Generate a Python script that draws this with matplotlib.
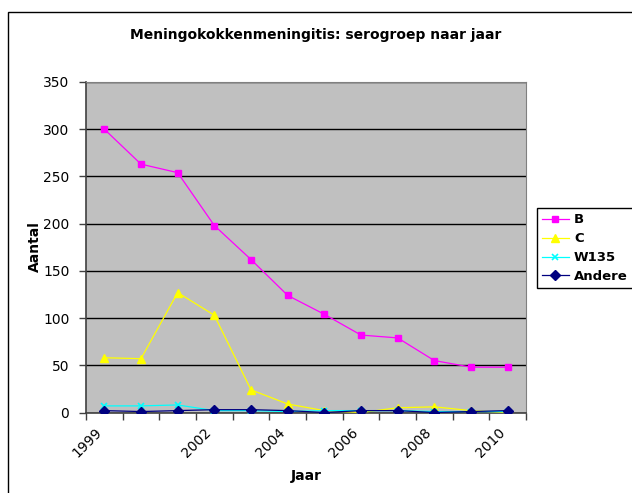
import matplotlib.pyplot as plt
from matplotlib.patches import Rectangle

# data
jaren = ['1999', '2000', '2001', '2002', '2003', '2004', '2005', '2006', '2007', '2008', '2009', '2010']
tick_labels = ['1999', '', '', '2002', '', '2004', '', '2006', '', '2008', '', '2010']
B = [300, 263, 254, 198, 162, 124, 104, 82, 79, 55, 48, 48]
C = [58, 57, 127, 103, 24, 9, 2, 0, 5, 6, 2, 0]
W135 = [7, 7, 8, 2, 2, 1, 2, 2, 2, 1, 1, 1]
Andere = [2, 1, 2, 3, 3, 2, 0, 2, 2, 0, 1, 2]

W, H = 632, 493
fig = plt.figure(figsize=(W / 100, H / 100), dpi=100)
fig.patch.set_facecolor('white')

# chart area border (runs off right and bottom)
fig.patches.append(Rectangle((8 / W, -0.2), 1.5, 1 - 12 / H + 0.2, transform=fig.transFigure,
                             fill=False, edgecolor='black', linewidth=1))

ax = fig.add_axes([86 / W, 1 - 412.5 / H, (526 - 86) / W, (412.5 - 82) / H])
ax.set_facecolor('#C0C0C0')

x = list(range(len(jaren)))
ax.plot(x, B, color='#FF00FF', marker='s', markersize=5, linewidth=0.9, label='B', zorder=3)
ax.plot(x, C, color='#FFFF00', marker='^', markersize=6, linewidth=0.9, label='C', zorder=3)
ax.plot(x, W135, color='#00FFFF', marker='x', markersize=5, markeredgewidth=1.2, linewidth=0.9, label='W135', zorder=3)
ax.plot(x, Andere, color='#000080', marker='D', markersize=5, linewidth=0.9, label='Andere', zorder=4)

ax.set_xlim(-0.5, len(jaren) - 0.5)
ax.set_ylim(0, 350)
ax.set_yticks(range(0, 351, 50))
ax.yaxis.grid(True, color='black', linewidth=1)
ax.set_axisbelow(True)

ax.set_xticks([i - 0.5 for i in range(len(jaren) + 1)])
ax.set_xticklabels([])
ax.set_xticks(x, minor=True)
ax.set_xticklabels(tick_labels, minor=True, rotation=45, ha='right', va='top', fontsize=10)
ax.tick_params(axis='x', which='minor', length=0, pad=9)
ax.tick_params(axis='x', which='major', length=5, width=1, color='#404040', direction='out')
ax.tick_params(axis='y', length=5, width=1, color='#404040', labelsize=10, pad=7)

for s in ['top', 'right']:
    ax.spines[s].set_color('#808080')
for s in ['left', 'bottom']:
    ax.spines[s].set_color('#404040')
    ax.spines[s].set_linewidth(1.2)

fig.text(0.5, 1 - 35 / H, 'Meningokokkenmeningitis: serogroep naar jaar', ha='center', va='center',
         fontsize=10, fontweight='bold')
fig.text(306 / W, 1 - 476 / H, 'Jaar', ha='center', va='center', fontsize=10, fontweight='bold')
fig.text(35 / W, 1 - 247 / H, 'Aantal', ha='center', va='center', rotation=90, fontsize=10, fontweight='bold')

leg = fig.legend(loc='upper left', bbox_to_anchor=(537 / W, 1 - 208 / H), borderaxespad=0,
                 fancybox=False, edgecolor='black', framealpha=1, handlelength=2.0,
                 labelspacing=0.45, borderpad=0.4, handletextpad=0.4,
                 prop={'weight': 'bold', 'size': 9.5})
leg.get_frame().set_linewidth(1)

fig.savefig('out.png', dpi=100)
